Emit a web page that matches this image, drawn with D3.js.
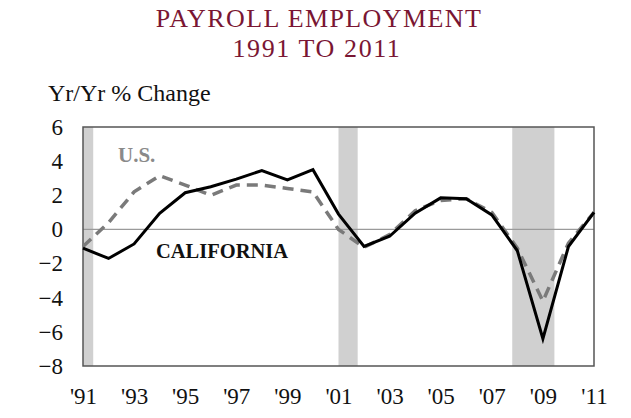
<!DOCTYPE html>
<html><head><meta charset="utf-8">
<script src="https://cdn.jsdelivr.net/npm/d3@7"></script>
<style>body{margin:0;background:#fff}svg{display:block}</style>
</head><body>
<script>
const years = d3.range(1991, 2012);
const california = [-1.1,-1.7,-0.85,0.95,2.15,2.5,2.95,3.45,2.9,3.5,0.9,-1.0,-0.4,0.95,1.85,1.8,0.85,-1.25,-6.4,-1.0,1.0];
const us = [-1.0,0.4,2.2,3.15,2.6,2.0,2.6,2.6,2.4,2.2,0.0,-1.05,-0.3,1.1,1.7,1.8,1.0,-1.1,-4.2,-0.8,1.0];
const recessionStart = [1991, 2001, 2007.8];
const recessionEnd = [1991.4, 2001.75, 2009.45];
const yTicks = [6,4,2,0,-2,-4,-6,-8];
const xTicks = [1991,1993,1995,1997,1999,2001,2003,2005,2007,2009,2011];
const xTickLabels = ["'91","'93","'95","'97","'99","'01","'03","'05","'07","'09","'11"];

const W = 631, H = 418;
const svg = d3.select("body").append("svg").attr("width", W).attr("height", H);
const x = d3.scaleLinear().domain([1991, 2011]).range([83, 594]);
const y = d3.scaleLinear().domain([-8, 6]).range([366, 127]);

const serif = "'Liberation Serif','Times New Roman',serif";

svg.append("text").attr("x", 319).attr("y", 27).attr("text-anchor", "middle")
  .attr("font-family", serif).attr("font-size", 26).attr("letter-spacing", 1.4)
  .attr("fill", "#7a1633").text("PAYROLL EMPLOYMENT");
svg.append("text").attr("x", 317).attr("y", 57).attr("text-anchor", "middle")
  .attr("font-family", serif).attr("font-size", 26).attr("letter-spacing", 1.6)
  .attr("fill", "#7a1633").text("1991 TO 2011");

svg.append("text").attr("x", 48).attr("y", 101)
  .attr("font-family", serif).attr("font-size", 24).attr("fill", "#111").text("Yr/Yr % Change");

// recession shading
svg.append("g").selectAll("rect").data(recessionStart).join("rect")
  .attr("x", (d) => x(d)).attr("y", y(6))
  .attr("width", (d, i) => x(recessionEnd[i]) - x(d))
  .attr("height", y(-8) - y(6)).attr("fill", "#d0d0d0");

// zero line
svg.append("line").attr("x1", x(1991)).attr("x2", x(2011)).attr("y1", y(0)).attr("y2", y(0))
  .attr("stroke", "#9a9a9a").attr("stroke-width", 1.2);

// y axis labels
const yAxis = d3.axisLeft(y).tickValues(yTicks).tickSize(0).tickPadding(20).tickFormat(d3.format("d"));
const gy = svg.append("g").attr("transform", `translate(${x(1991)},0)`).call(yAxis);
gy.select(".domain").remove();
gy.selectAll("text").attr("font-family", serif).attr("font-size", 23).attr("fill", "#111");

const xAxis = d3.axisBottom(x).tickValues(xTicks).tickSize(0).tickPadding(22)
  .tickFormat((d, i) => xTickLabels[i]);
const gx = svg.append("g").attr("transform", `translate(0,${y(-8)})`).call(xAxis);
gx.select(".domain").remove();
gx.selectAll("text").attr("font-family", serif).attr("font-size", 23).attr("fill", "#111");

// frame
svg.append("rect").attr("x", x(1991)).attr("y", y(6)).attr("width", x(2011) - x(1991))
  .attr("height", y(-8) - y(6)).attr("fill", "none").attr("stroke", "#555").attr("stroke-width", 1.5);

const line = d3.line().x((d, i) => x(years[i])).y((d) => y(d));
svg.append("path").datum(us).attr("d", line).attr("fill", "none")
  .attr("stroke", "#7a7a7a").attr("stroke-width", 3.5).attr("stroke-dasharray", "11,7");
svg.append("path").datum(california).attr("d", line).attr("fill", "none")
  .attr("stroke", "#000").attr("stroke-width", 3).attr("stroke-linejoin", "miter");

svg.append("text").attr("x", 118).attr("y", 162).attr("font-family", serif).attr("font-weight", "bold")
  .attr("font-size", 21).attr("fill", "#8a8a8a").text("U.S.");
svg.append("text").attr("x", 156).attr("y", 258).attr("font-family", serif).attr("font-weight", "bold")
  .attr("font-size", 20.5).attr("fill", "#111").text("CALIFORNIA");
</script>
</body></html>
